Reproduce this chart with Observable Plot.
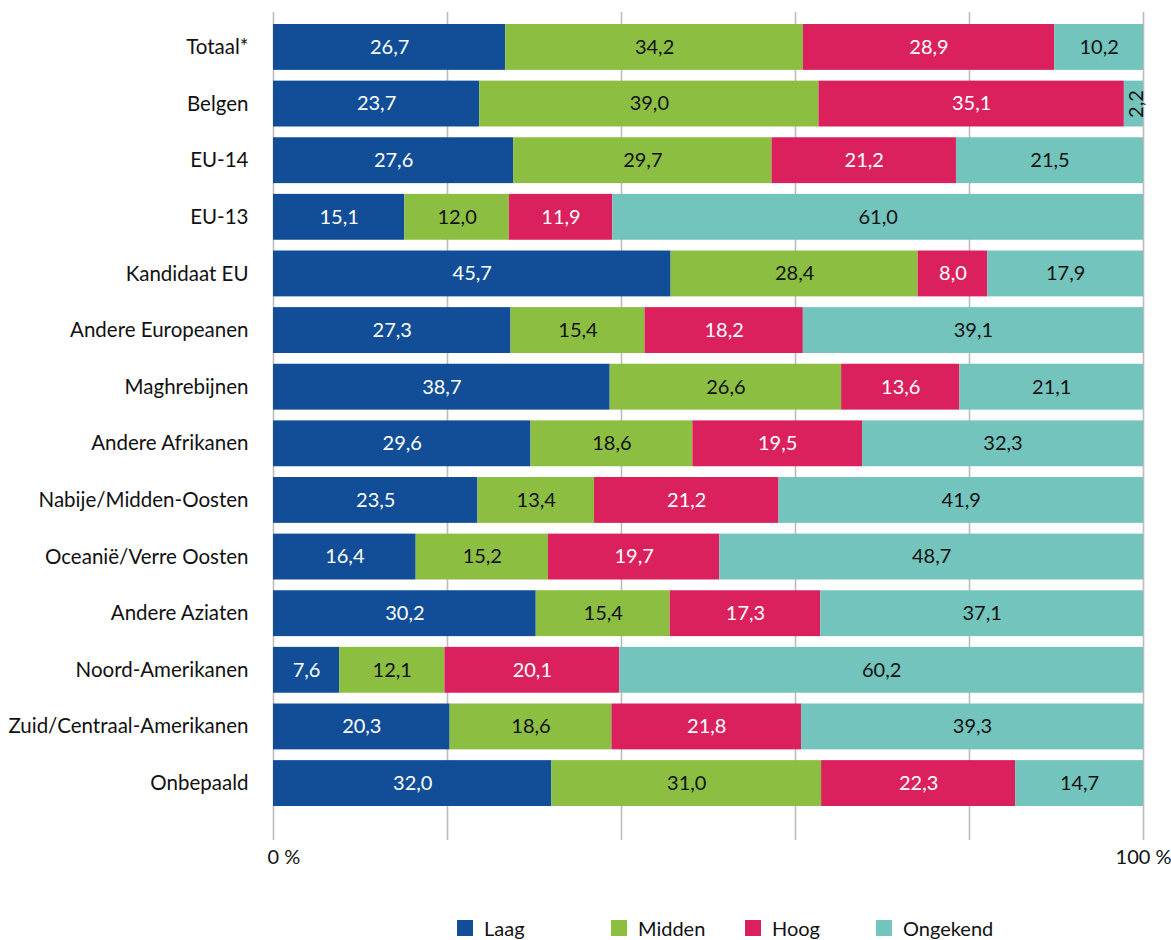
<!DOCTYPE html>
<html>
<head>
<meta charset="utf-8">
<script src="https://cdn.jsdelivr.net/npm/d3@7"></script>
<script src="https://cdn.jsdelivr.net/npm/@observablehq/plot@0.6"></script>
<style>
  body { margin: 0; background: #fff; font-family: Lato, sans-serif; }
  #wrap { position: relative; width: 1171px; }
  #legend { position: relative; height: 40px; font-size: 20px; color: #111; }
  .item { position: absolute; top: 20px; height: 16px; display: flex; align-items: center; }
  .sw { width: 16px; height: 16px; margin-right: 11px; }
</style>
</head>
<body>
<div id="wrap">
  <div id="chart"></div>
  <div id="legend"></div>
</div>
<script>
const categories = ["Totaal*", "Belgen", "EU-14", "EU-13", "Kandidaat EU", "Andere Europeanen", "Maghrebijnen", "Andere Afrikanen", "Nabije/Midden-Oosten", "Oceanië/Verre Oosten", "Andere Aziaten", "Noord-Amerikanen", "Zuid/Centraal-Amerikanen", "Onbepaald"];
const seriesNames = ["Laag", "Midden", "Hoog", "Ongekend"];
const seriesColors = ["#114e97", "#8cbe41", "#da215d", "#72c4bc"];
const laag     = [26.7, 23.7, 27.6, 15.1, 45.7, 27.3, 38.7, 29.6, 23.5, 16.4, 30.2, 7.6, 20.3, 32.0];
const midden   = [34.2, 39.0, 29.7, 12.0, 28.4, 15.4, 26.6, 18.6, 13.4, 15.2, 15.4, 12.1, 18.6, 31.0];
const hoog     = [28.9, 35.1, 21.2, 11.9, 8.0, 18.2, 13.6, 19.5, 21.2, 19.7, 17.3, 20.1, 21.8, 22.3];
const ongekend = [10.2, 2.2, 21.5, 61.0, 17.9, 39.1, 21.1, 32.3, 41.9, 48.7, 37.1, 60.2, 39.3, 14.7];
const gridTicks = [0, 20, 40, 60, 80, 100];
const xTickLabels = [{x: 0, label: "0 %"}, {x: 100, label: "100 %"}];

const seriesValues = [laag, midden, hoog, ongekend];
const rows = [];
categories.forEach((c, i) => {
  seriesNames.forEach((s, j) => rows.push({cat: c, series: s, value: seriesValues[j][i]}));
});
const fmt = v => v.toFixed(1).replace(".", ",");
const lightText = new Set(["Laag", "Hoog"]);
const stackOpts = {y: "cat", x: "value", z: "series", order: seriesNames};

const chart = Plot.plot({
  width: 1171,
  height: 900,
  marginLeft: 273,
  marginRight: 28,
  marginTop: 12,
  marginBottom: 82,
  style: {fontFamily: "Lato, sans-serif", fontSize: "20px", color: "#111", background: "#fff"},
  x: {domain: [0, 100], axis: null},
  y: {domain: categories, paddingInner: 0.19, paddingOuter: 0.212, round: false, label: null},
  color: {domain: seriesNames, range: seriesColors},
  marks: [
    Plot.ruleX(gridTicks, {stroke: "#bcbcbc", strokeWidth: 1.6, insetBottom: -22}),
    Plot.barX(rows, Plot.stackX({...stackOpts, fill: "series"})),
    Plot.axisY({tickSize: 0, tickPadding: 25, fontSize: 20.5, label: null}),
    Plot.textX(rows, Plot.stackX({...stackOpts,
      text: d => (lightText.has(d.series) && d.value >= 5) ? fmt(d.value) : null,
      fill: "white", fontSize: 20})),
    Plot.textX(rows, Plot.stackX({...stackOpts,
      text: d => (!lightText.has(d.series) && d.value >= 5) ? fmt(d.value) : null,
      fill: "#111", fontSize: 20})),
    Plot.textX(rows, Plot.stackX({...stackOpts,
      text: d => d.value < 5 ? fmt(d.value) : null,
      fill: "#111", fontSize: 20, rotate: -90, dx: 3})),
    Plot.text(xTickLabels.slice(0, 1), {x: "x", text: "label", frameAnchor: "bottom", dy: 45, textAnchor: "start", dx: -6, fontSize: 20, fill: "#111"}),
    Plot.text(xTickLabels.slice(1), {x: "x", text: "label", frameAnchor: "bottom", dy: 45, fontSize: 20, fill: "#111"})
  ]
});
document.getElementById("chart").appendChild(chart);

const legendLeft = [457, 611, 745, 876];
const legend = document.getElementById("legend");
seriesNames.forEach((s, i) => {
  const it = document.createElement("div");
  it.className = "item";
  it.style.left = legendLeft[i] + "px";
  it.innerHTML = `<div class="sw" style="background:${seriesColors[i]}"></div><span>${s}</span>`;
  legend.appendChild(it);
});
</script>
</body>
</html>
